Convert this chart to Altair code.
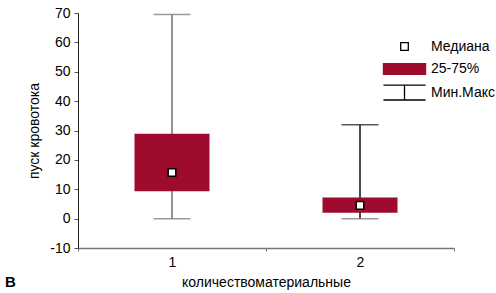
import altair as alt
import pandas as pd

categories = ["1", "2"]
mins = [0, 0]
maxs = [69.5, 32]
q1 = [9.3, 2.0]
q3 = [28.9, 7.2]
medians = [15.7, 4.5]
legend_items = ["Медиана", "25-75%", "Мин.Макс"]
y_ticks = [-10, 0, 10, 20, 30, 40, 50, 60, 70]

df = pd.DataFrame({
    "cat": categories, "lo": mins, "hi": maxs,
    "q1": q1, "q3": q3, "med": medians,
    "kind": [legend_items[0]] * len(categories),
})

FONT = "Liberation Sans, Arial, sans-serif"
FS = 14
CRIMSON = "#9e0b2d"

xaxis = alt.Axis(title="количествоматериальные", labelAngle=0,
                 tickBand="extent", tickSize=3, tickColor="#777",
                 domainColor="#777", domainWidth=1.5,
                 labelPadding=4, titlePadding=6)
xscale = alt.Scale(paddingInner=0, paddingOuter=0)
yscale = alt.Scale(domain=[-10, 70], nice=False, zero=False)
yaxis = alt.Axis(title="пуск кровотока", values=y_ticks, labelExpr="'' + datum.value",
                 labelOverlap=False, grid=False, tickSize=4, tickColor="#555",
                 domainColor="#222", labelPadding=4, titlePadding=8)


def X():
    return alt.X("cat:N", scale=xscale, axis=xaxis)


def Y(field):
    return alt.Y(field, type="quantitative", scale=yscale, axis=yaxis)


base = alt.Chart(df)
whisk_colors = alt.Scale(domain=categories, range=["#707070", "#111111"])

whisk = base.mark_rule(strokeWidth=1.5).encode(
    x=X(), y=Y("lo"), y2="hi:Q",
    color=alt.Color("cat:N", scale=whisk_colors, legend=None),
)
capmax = base.mark_tick(size=37, thickness=1.5).encode(
    x=X(), y=Y("hi"),
    color=alt.Color("cat:N", scale=whisk_colors, legend=None),
)
capmin = base.mark_tick(size=37, thickness=1.5, color="#707070").encode(
    x=X(), y=Y("lo"),
)
box = base.mark_bar(size=75, color=CRIMSON).encode(
    x=X(), y=Y("q1"), y2="q3:Q",
)

# symbol size 529 -> unit = 11.5 px; paths extend beyond [-1, 1] for wide legend glyphs
shapes = [
    "M-0.33,-0.33H0.33V0.33H-0.33Z",
    "M-1.83,-0.46H1.83V0.46H-1.83Z",
    "M-1.83,-0.65H1.83M0,-0.65V0.65M-1.83,0.65H1.83",
]


def leg():
    return alt.Legend(title=None, orient="none", legendX=314, legendY=21,
                      labelFont=FONT, labelFontSize=FS, labelColor="black",
                      labelOffset=14, rowPadding=2.5, padding=0,
                      symbolSize=529, symbolStrokeWidth=1.3)


med = base.mark_point(strokeWidth=1.5, opacity=1, size=529).encode(
    x=X(), y=Y("med"),
    shape=alt.Shape("kind:N", scale=alt.Scale(domain=legend_items, range=shapes),
                    legend=leg()),
    fill=alt.Fill("kind:N", scale=alt.Scale(domain=legend_items,
                                             range=["white", CRIMSON, "transparent"]),
                  legend=leg()),
    stroke=alt.Stroke("kind:N", scale=alt.Scale(domain=legend_items,
                                                 range=["black", CRIMSON, "black"]),
                      legend=leg()),
)

chart = alt.layer(whisk, capmax, capmin, box, med).resolve_scale(
    color="independent"
).properties(
    width=376, height=235,
    autosize="none",
    padding={"left": 78, "top": 13, "right": 42, "bottom": 45},
    title=alt.TitleParams("В", orient="bottom", anchor="start", frame="group",
                          dx=-73, offset=-14, font=FONT, fontSize=15, fontWeight="bold",
                          color="black"),
).configure_view(stroke=None).configure_axis(
    labelFont=FONT, labelFontSize=FS, labelColor="black",
    titleFont=FONT, titleFontSize=FS, titleFontWeight="normal", titleColor="black",
).configure_axisY(labelOverlap=False)

chart.save("out.html", embed_options={"renderer": "svg", "actions": False})
